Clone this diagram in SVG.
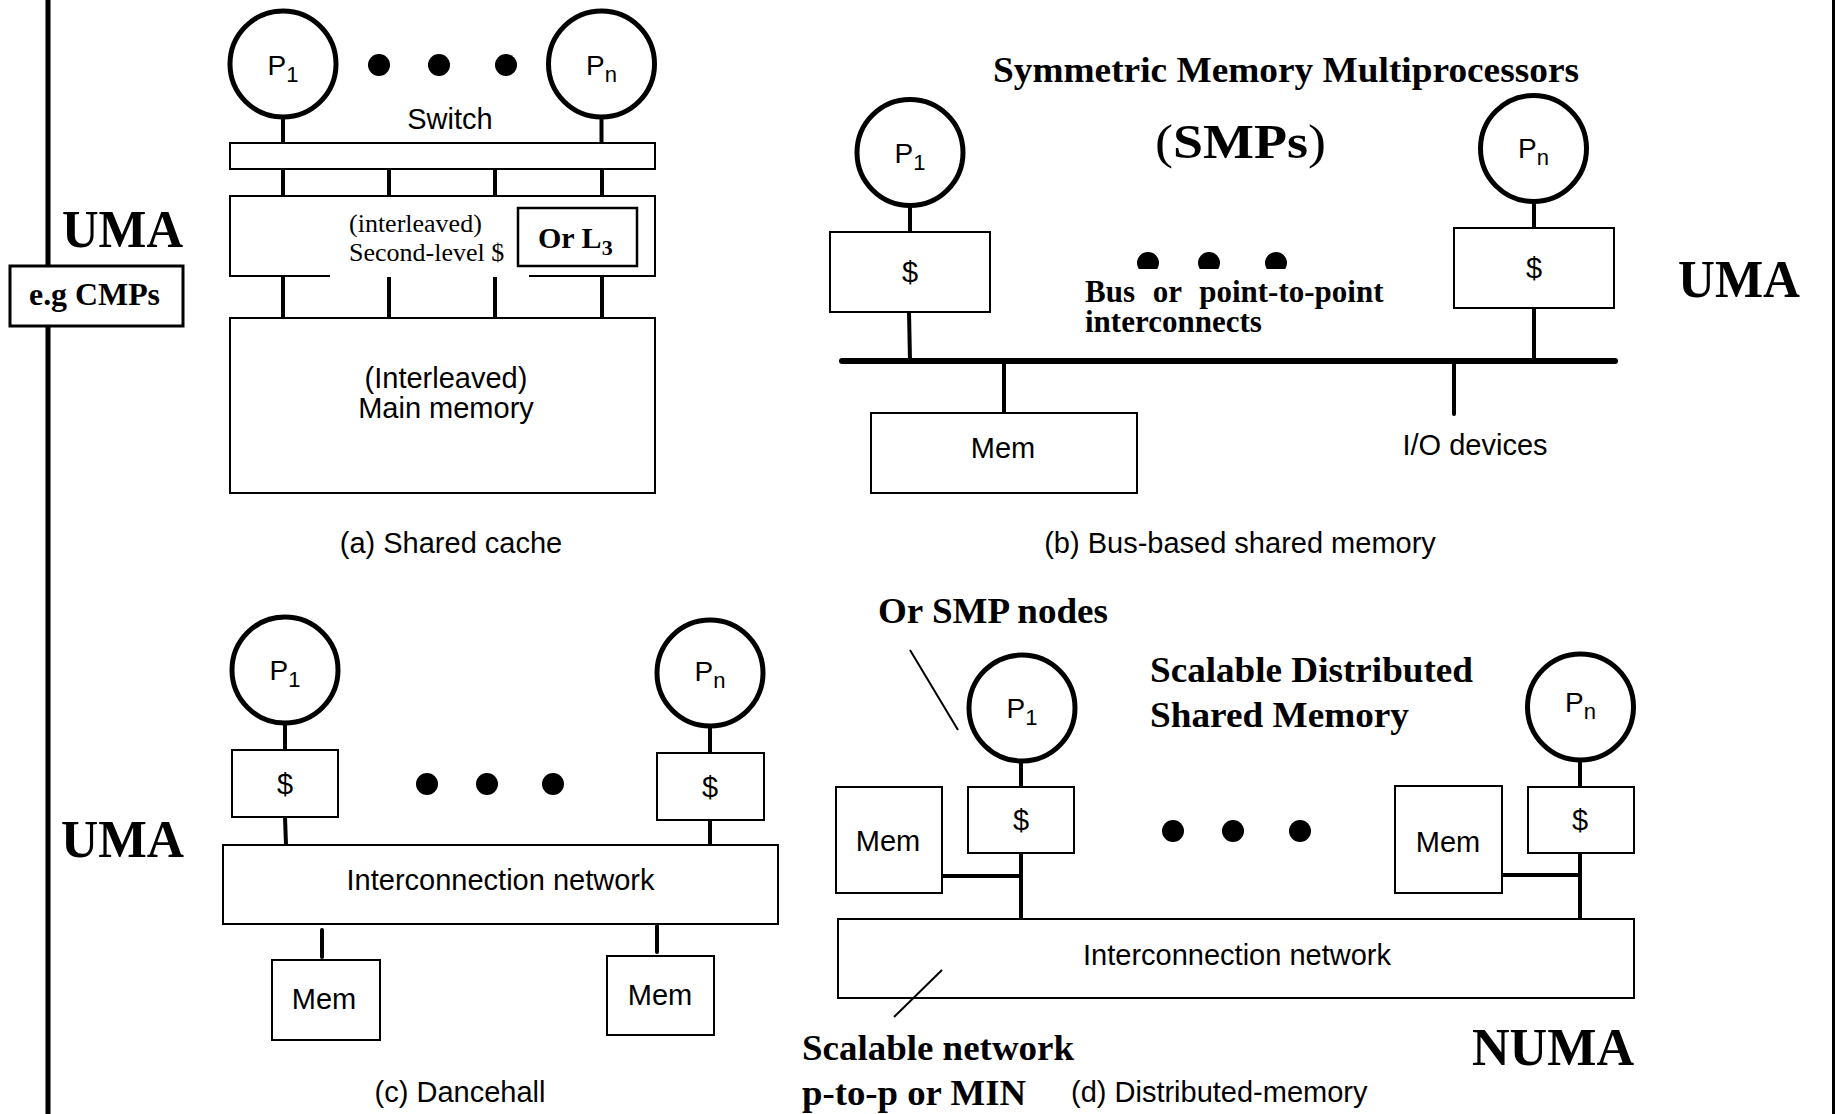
<svg xmlns="http://www.w3.org/2000/svg" width="1835" height="1114" viewBox="0 0 1835 1114">
<style>
.box{fill:#fff;stroke:#000;stroke-width:2}
.proc{fill:#fff;stroke:#000;stroke-width:5}
.conn{stroke:#000;stroke-width:4;fill:none}
.thin{stroke:#000;stroke-width:2;fill:none}
.sans{font-family:"Liberation Sans",Arial,Helvetica,sans-serif;font-size:29px;fill:#000}
.pl{font-family:"Liberation Sans",Arial,Helvetica,sans-serif;font-size:28px;fill:#000;text-anchor:middle}
.mid{text-anchor:middle}
.serif{font-family:"Liberation Serif","Times New Roman",serif;fill:#000}
.sb{font-family:"Liberation Serif","Times New Roman",serif;font-weight:bold;fill:#000}
.dot{fill:#000}
</style>
<defs>
<clipPath id="dotclip"><rect x="1100" y="240" width="220" height="29"/></clipPath>
</defs>
<rect x="0" y="0" width="1835" height="1114" fill="#fff"/>

<!-- frame lines -->
<g id="frame">
<line x1="48" y1="0" x2="48" y2="1114" stroke="#000" stroke-width="5"/>
<line x1="1833.5" y1="0" x2="1833.5" y2="1114" stroke="#000" stroke-width="3"/>
</g>

<!-- side labels -->
<g id="label-uma-top"><text class="sb" x="62" y="247" font-size="52" textLength="121" lengthAdjust="spacingAndGlyphs">UMA</text></g>
<g id="label-cmps">
<rect x="10" y="266" width="173" height="60" fill="#fff" stroke="#000" stroke-width="3"/>
<text class="sb" x="29" y="305" font-size="32" textLength="131" lengthAdjust="spacingAndGlyphs">e.g CMPs</text>
</g>
<g id="label-uma-c"><text class="sb" x="61" y="857" font-size="52" textLength="123" lengthAdjust="spacingAndGlyphs">UMA</text></g>
<g id="label-uma-b"><text class="sb" x="1678" y="297" font-size="52" textLength="122" lengthAdjust="spacingAndGlyphs">UMA</text></g>
<g id="label-numa"><text class="sb" x="1472" y="1065" font-size="52" textLength="162" lengthAdjust="spacingAndGlyphs">NUMA</text></g>

<!-- ===== (a) Shared cache ===== -->
<g id="a-p1"><circle class="proc" cx="283" cy="64" r="53"/><text class="pl" x="283" y="75">P<tspan font-size="22" dy="7">1</tspan></text></g>
<g id="a-pn"><circle class="proc" cx="601.5" cy="64" r="53"/><text class="pl" x="601.5" y="75">P<tspan font-size="22" dy="7">n</tspan></text></g>
<g id="a-dots"><circle class="dot" cx="379" cy="65" r="11"/><circle class="dot" cx="439" cy="65" r="11"/><circle class="dot" cx="506" cy="65" r="11"/></g>
<g id="a-switch">
<text class="sans mid" x="450" y="129">Switch</text>
<rect class="box" x="230" y="143" width="425" height="26"/>
</g>
<g id="a-cache">
<path d="M330,276 H230 V196 H655 V276 H529" fill="#fff" stroke="#000" stroke-width="2"/>
<text class="serif" x="349" y="232" font-size="26">(interleaved)</text>
<text class="serif" x="349" y="261" font-size="26">Second-level $</text>
</g>
<g id="a-l3">
<rect x="518" y="208" width="119" height="58" fill="#fff" stroke="#000" stroke-width="2.5"/>
<text class="sb" x="538" y="248" font-size="30">Or L<tspan font-size="22" dy="7">3</tspan></text>
</g>
<g id="a-mainmem">
<rect class="box" x="230" y="318" width="425" height="175"/>
<text class="sans mid" x="446" y="388">(Interleaved)</text>
<text class="sans mid" x="446" y="418">Main memory</text>
</g>
<g id="a-caption"><text class="sans mid" x="451" y="553">(a) Shared cache</text></g>

<!-- ===== (b) Bus-based ===== -->
<g id="b-title">
<text class="sb" x="993" y="82" font-size="35" textLength="586" lengthAdjust="spacingAndGlyphs">Symmetric Memory Multiprocessors</text>
<text class="sb" x="1155" y="158" font-size="48" textLength="171" lengthAdjust="spacingAndGlyphs"><tspan font-weight="normal">(</tspan>SMPs<tspan font-weight="normal">)</tspan></text>
</g>
<g id="b-p1"><circle class="proc" cx="910" cy="152.5" r="53"/><text class="pl" x="910" y="163">P<tspan font-size="22" dy="7">1</tspan></text></g>
<g id="b-cache1"><rect class="box" x="830" y="232" width="160" height="80"/><text class="sans mid" x="910" y="282" font-size="31">$</text></g>
<g id="b-pn"><circle class="proc" cx="1533.5" cy="148.5" r="53"/><text class="pl" x="1533.5" y="158">P<tspan font-size="22" dy="7">n</tspan></text></g>
<g id="b-cachen"><rect class="box" x="1454" y="228" width="160" height="80"/><text class="sans mid" x="1534" y="278" font-size="31">$</text></g>
<g id="b-dots" clip-path="url(#dotclip)"><circle class="dot" cx="1148" cy="263" r="11"/><circle class="dot" cx="1209" cy="263" r="11"/><circle class="dot" cx="1276" cy="263" r="11"/></g>
<g id="b-buslabel">
<text class="sb" x="1085" y="302" font-size="31" word-spacing="10">Bus or point-to-point</text>
<text class="sb" x="1085" y="332" font-size="31">interconnects</text>
</g>
<g id="b-mem"><rect class="box" x="871" y="413" width="266" height="80"/><text class="sans mid" x="1003" y="458">Mem</text></g>
<g id="b-io"><text class="sans mid" x="1475" y="455">I/O devices</text></g>
<g id="b-caption"><text class="sans mid" x="1240" y="553">(b) Bus-based shared memory</text></g>

<!-- ===== (c) Dancehall ===== -->
<g id="c-p1"><circle class="proc" cx="285" cy="670" r="53"/><text class="pl" x="285" y="680">P<tspan font-size="22" dy="7">1</tspan></text></g>
<g id="c-cache1"><rect class="box" x="232" y="750" width="106" height="67"/><text class="sans mid" x="285" y="794" font-size="30">$</text></g>
<g id="c-pn"><circle class="proc" cx="710" cy="673" r="53"/><text class="pl" x="710" y="681">P<tspan font-size="22" dy="7">n</tspan></text></g>
<g id="c-cachen"><rect class="box" x="657" y="753" width="107" height="67"/><text class="sans mid" x="710" y="797" font-size="30">$</text></g>
<g id="c-dots"><circle class="dot" cx="427" cy="784" r="11"/><circle class="dot" cx="487" cy="784" r="11"/><circle class="dot" cx="553" cy="784" r="11"/></g>
<g id="c-net"><rect class="box" x="223" y="845" width="555" height="79"/><text class="sans mid" x="500.5" y="890">Interconnection network</text></g>
<g id="c-mem1"><rect class="box" x="272" y="960" width="108" height="80"/><text class="sans mid" x="324" y="1009" font-size="28">Mem</text></g>
<g id="c-mem2"><rect class="box" x="607" y="956" width="107" height="79"/><text class="sans mid" x="660" y="1005" font-size="28">Mem</text></g>
<g id="c-caption"><text class="sans mid" x="460" y="1102">(c) Dancehall</text></g>

<!-- ===== (d) Distributed memory ===== -->
<g id="d-smpnodes"><text class="sb" x="878" y="623" font-size="35" textLength="230" lengthAdjust="spacingAndGlyphs">Or SMP nodes</text></g>
<g id="d-title">
<text class="sb" x="1150" y="682" font-size="35" textLength="323" lengthAdjust="spacingAndGlyphs">Scalable Distributed</text>
<text class="sb" x="1150" y="727" font-size="35" textLength="259" lengthAdjust="spacingAndGlyphs">Shared Memory</text>
</g>
<g id="d-p1"><circle class="proc" cx="1022" cy="708" r="53"/><text class="pl" x="1022" y="718">P<tspan font-size="22" dy="7">1</tspan></text></g>
<g id="d-cache1"><rect class="box" x="968" y="787" width="106" height="66"/><text class="sans mid" x="1021" y="830" font-size="32">$</text></g>
<g id="d-mem1"><rect class="box" x="836" y="787" width="106" height="106"/><text class="sans mid" x="888" y="851" font-size="28">Mem</text></g>
<g id="d-pn"><circle class="proc" cx="1580.5" cy="707" r="53"/><text class="pl" x="1580.5" y="712">P<tspan font-size="22" dy="7">n</tspan></text></g>
<g id="d-cachen"><rect class="box" x="1528" y="787" width="106" height="66"/><text class="sans mid" x="1580" y="830" font-size="32">$</text></g>
<g id="d-memn"><rect class="box" x="1395" y="786" width="107" height="107"/><text class="sans mid" x="1448" y="852" font-size="28">Mem</text></g>
<g id="d-dots"><circle class="dot" cx="1173" cy="831" r="11"/><circle class="dot" cx="1233" cy="831" r="11"/><circle class="dot" cx="1300" cy="831" r="11"/></g>
<g id="d-net"><rect class="box" x="838" y="919" width="796" height="79"/><text class="sans mid" x="1237" y="965">Interconnection network</text></g>
<g id="d-netlabel">
<text class="sb" x="802" y="1060" font-size="35" textLength="272" lengthAdjust="spacingAndGlyphs">Scalable network</text>
<text class="sb" x="802" y="1105" font-size="35" textLength="224" lengthAdjust="spacingAndGlyphs">p-to-p or MIN</text>
</g>
<g id="d-caption"><text class="sans" x="1071" y="1102">(d) Distributed-memory</text></g>

<!-- connectors (drawn on top) -->
<g id="connectors">
<!-- (a) -->
<line class="conn" x1="283" y1="117" x2="283" y2="143"/>
<line class="conn" x1="601.5" y1="117" x2="601.5" y2="143"/>
<line class="conn" x1="283" y1="169" x2="283" y2="196"/>
<line class="conn" x1="389" y1="169" x2="389" y2="196"/>
<line class="conn" x1="495" y1="169" x2="495" y2="196"/>
<line class="conn" x1="602" y1="169" x2="602" y2="196"/>
<line class="conn" x1="283" y1="276" x2="283" y2="318"/>
<line class="conn" x1="389" y1="277" x2="389" y2="318"/>
<line class="conn" x1="495" y1="277" x2="495" y2="318"/>
<line class="conn" x1="602" y1="276" x2="602" y2="318"/>
<!-- (b) -->
<line class="conn" x1="910" y1="206" x2="910" y2="232"/>
<line class="conn" x1="909" y1="312" x2="910" y2="361"/>
<line class="conn" x1="1004" y1="361" x2="1004" y2="413"/>
<line class="conn" x1="1534" y1="202" x2="1534" y2="228"/>
<line class="conn" x1="1534" y1="308" x2="1534" y2="361"/>
<line class="conn" x1="1454" y1="361" x2="1454" y2="414" stroke-linecap="round"/>
<line x1="842" y1="361" x2="1615" y2="361" stroke="#000" stroke-width="6" stroke-linecap="round"/>
<!-- (c) -->
<line class="conn" x1="285" y1="723" x2="285" y2="750"/>
<line class="conn" x1="285" y1="817" x2="286" y2="845"/>
<line class="conn" x1="710" y1="726" x2="710" y2="753"/>
<line class="conn" x1="710" y1="820" x2="710" y2="845"/>
<line class="conn" x1="322" y1="930" x2="322" y2="957" stroke-linecap="round"/>
<line class="conn" x1="657" y1="926" x2="657" y2="952" stroke-linecap="round"/>
<!-- (d) -->
<line class="conn" x1="1021" y1="761" x2="1021" y2="787"/>
<line class="conn" x1="1021" y1="853" x2="1021" y2="919"/>
<line class="conn" x1="942" y1="876" x2="1021" y2="876"/>
<line class="conn" x1="1580" y1="760" x2="1580" y2="787"/>
<line class="conn" x1="1580" y1="853" x2="1580" y2="919"/>
<line class="conn" x1="1502" y1="875" x2="1580" y2="875"/>
<line class="thin" x1="910" y1="650" x2="958" y2="730"/>
<line class="thin" x1="942" y1="970" x2="894" y2="1017"/>
</g>
</svg>
